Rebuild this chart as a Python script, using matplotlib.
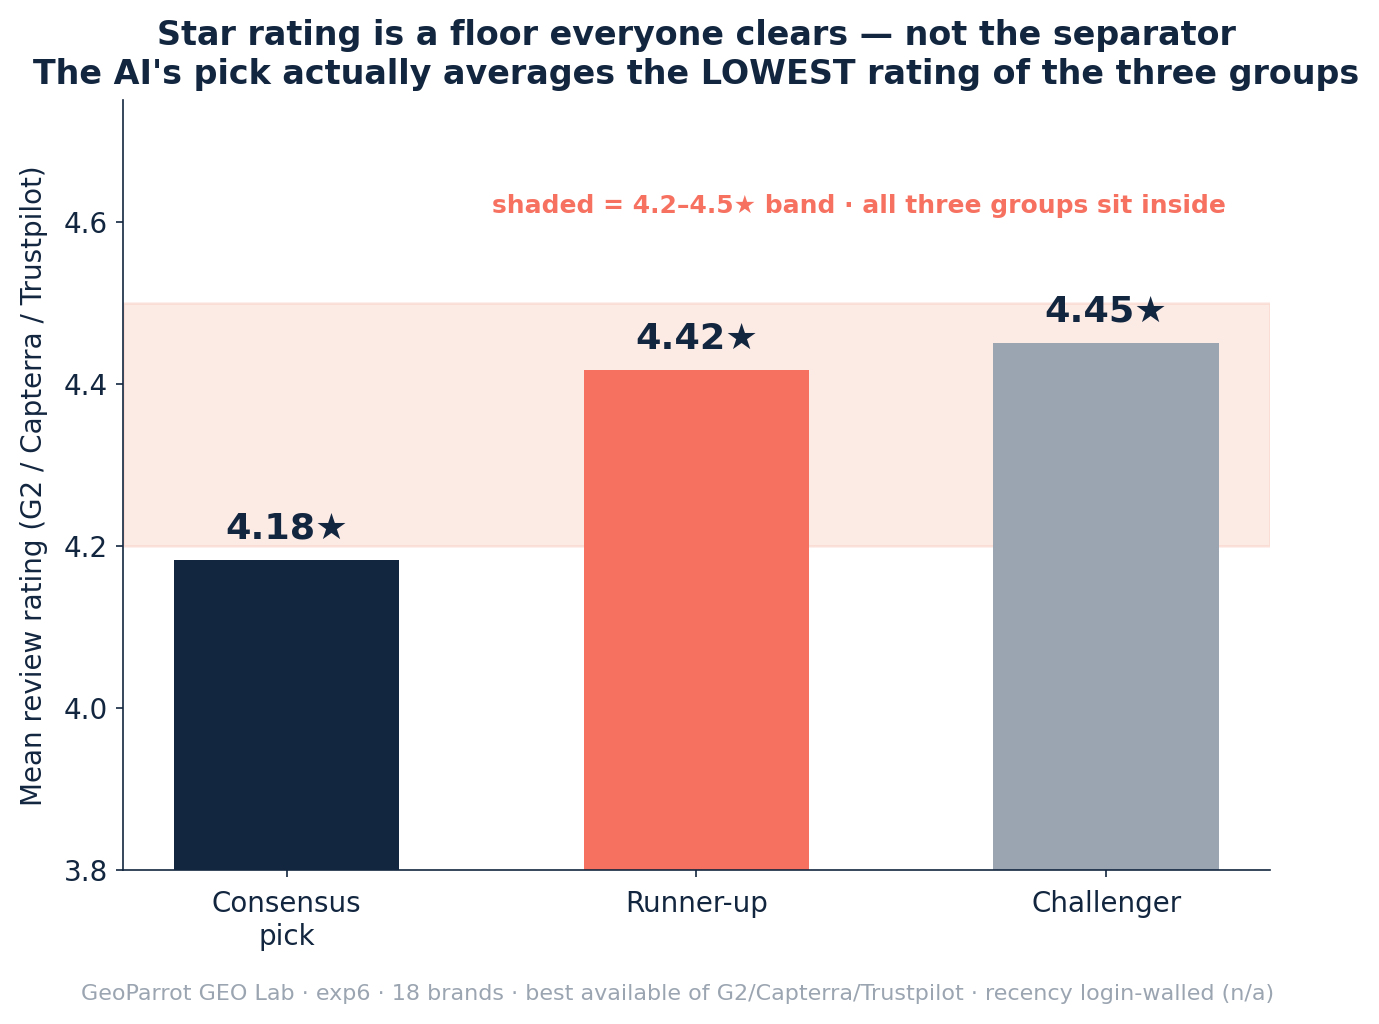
import matplotlib
matplotlib.use("Agg")
import matplotlib.pyplot as plt

NAVY = "#13263f"
CORAL = "#f77161"
GRAY = "#9ba5b1"
BAND = "#f08a6a"

groups = ["Consensus\npick", "Runner-up", "Challenger"]
ratings = [4.183, 4.417, 4.451]
labels = ["4.18★", "4.42★", "4.45★"]
colors = [NAVY, CORAL, GRAY]
band_lo, band_hi = 4.2, 4.5

fig, ax = plt.subplots(figsize=(1379 / 150, 1024 / 150), dpi=150)
fig.subplots_adjust(left=0.089, right=0.921, top=0.902, bottom=0.15)

x = range(len(groups))
ax.axhspan(band_lo, band_hi, facecolor=BAND, edgecolor=BAND, linewidth=1.2, alpha=0.17, zorder=0)
ax.bar(x, [r - 3.8 for r in ratings], bottom=3.8, width=0.55, color=colors, zorder=2)
for xi, r, lab in zip(x, ratings, labels):
    ax.text(xi, r + 0.018, lab, ha="center", va="bottom", fontsize=17.5,
            fontweight="bold", color=NAVY)

ax.text(1.397, 4.62, "shaded = 4.2–4.5★ band · all three groups sit inside",
        ha="center", va="center", fontsize=12, fontweight="bold", color=CORAL)

ax.set_xlim(-0.4, 2.4)
ax.set_ylim(3.8, 4.75)
ax.set_yticks([3.8, 4.0, 4.2, 4.4, 4.6])
ax.set_xticks(list(x))
ax.set_xticklabels(groups)
ax.tick_params(colors=NAVY, labelsize=13.3)
ax.tick_params(axis="x", pad=6)
for s in ["top", "right"]:
    ax.spines[s].set_visible(False)
for s in ["left", "bottom"]:
    ax.spines[s].set_color(NAVY)
ax.set_ylabel("Mean review rating (G2 / Capterra / Trustpilot)", fontsize=13.3, color=NAVY, labelpad=7.5)

ax.set_title("Star rating is a floor everyone clears — not the separator\n"
             "The AI's pick actually averages the LOWEST rating of the three groups",
             fontsize=16, fontweight="bold", color=NAVY, pad=8)

fig.text(0.491, 0.029, "GeoParrot GEO Lab · exp6 · 18 brands · best available of G2/Capterra/Trustpilot · recency login-walled (n/a)",
         ha="center", va="center", fontsize=10.7, color=GRAY)

fig.savefig("out.png", dpi=150)
